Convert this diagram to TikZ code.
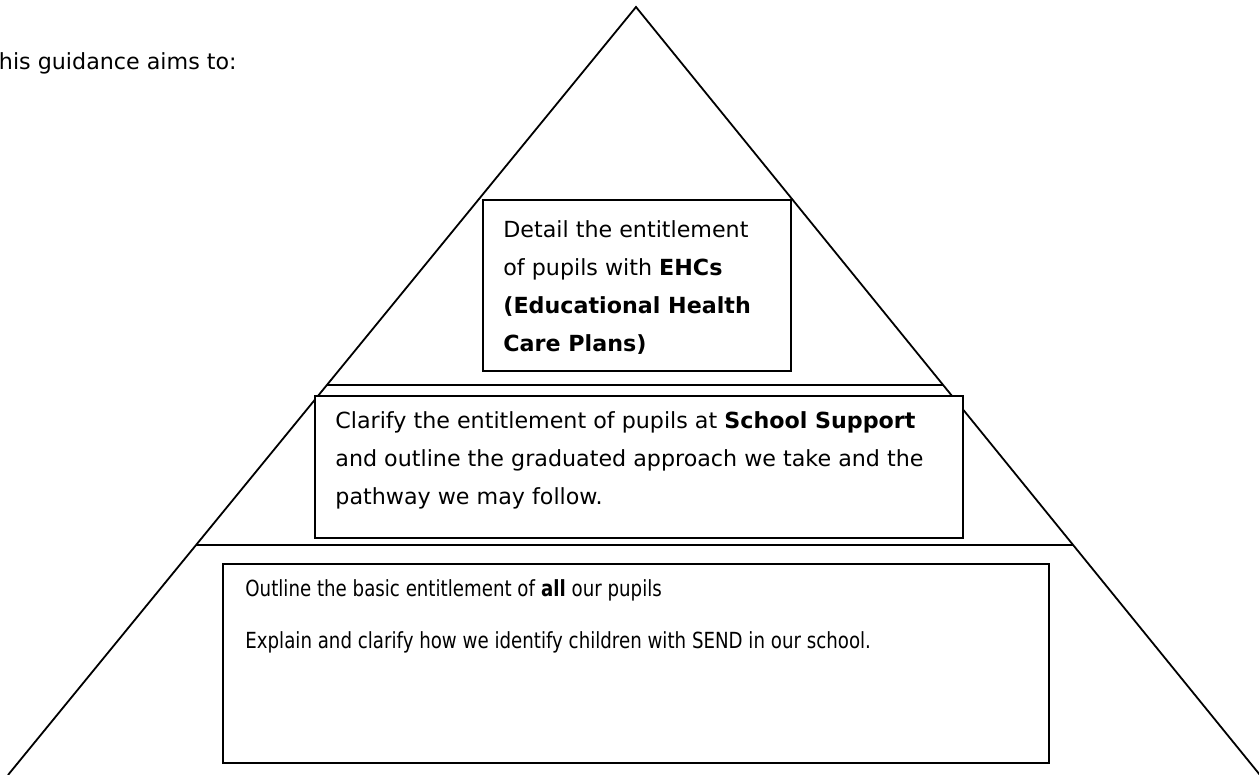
\documentclass[tikz,border=0pt]{standalone}
\usepackage{fontspec}
\setmainfont{DejaVu Sans}
\newfontfamily\narrowfont[FakeStretch=0.82]{DejaVu Sans}
\usetikzlibrary{calc}

\tikzset{
  boxframe/.style={draw, line width=1pt, fill=white, inner sep=0pt, anchor=north west},
  words/.style={inner sep=0pt, anchor=base west, align=left, font=\fontsize{11.1}{19}\selectfont},
  level/.style={draw, line width=0.9pt}
}

\begin{document}
\begin{tikzpicture}[x=0.5pt, y=-0.5pt]
  \useasboundingbox (0,0) rectangle (1259,775);
  \clip (0,0) rectangle (1259,775);
  \coordinate (apex) at (636,7);
  \coordinate (left) at (8,775);
  \coordinate (right) at (1260,775);
  \draw[line width=0.9pt] (left) -- (apex) -- (right);
  \draw[level] ($(apex)!0.492!(left)$) -- ($(apex)!0.492!(right)$);
  \draw[level] ($(apex)!0.7005!(left)$) -- ($(apex)!0.7005!(right)$);
  \node[words] (title) at (-15,70) {This guidance aims to:};
  \node[boxframe, minimum width=154pt, minimum height=85.5pt] (top) at (482,199) {};
  \node[boxframe, minimum width=324pt, minimum height=71pt] (mid) at (314,395) {};
  \node[boxframe, minimum width=413pt, minimum height=99.5pt] (base) at (222,563) {};
  \node[words] (toptext) at ($(top.north west)+(21,152)$) {Detail the entitlement\\of pupils with \textbf{EHCs}\\\textbf{(Educational Health}\\\textbf{Care Plans)}};
  \node[words] (midtext) at ($(mid.north west)+(21,109)$) {Clarify the entitlement of pupils at \textbf{School Support}\\and outline the graduated approach we take and the\\pathway we may follow.};
  \node[words, font=\narrowfont\fontsize{11.1}{19}\selectfont] (basetext) at ($(base.north west)+(23,85)$) {Outline the basic entitlement of \textbf{all} our pupils\\[7pt]Explain and clarify how we identify children with SEND in our school.};
\end{tikzpicture}
\end{document}
